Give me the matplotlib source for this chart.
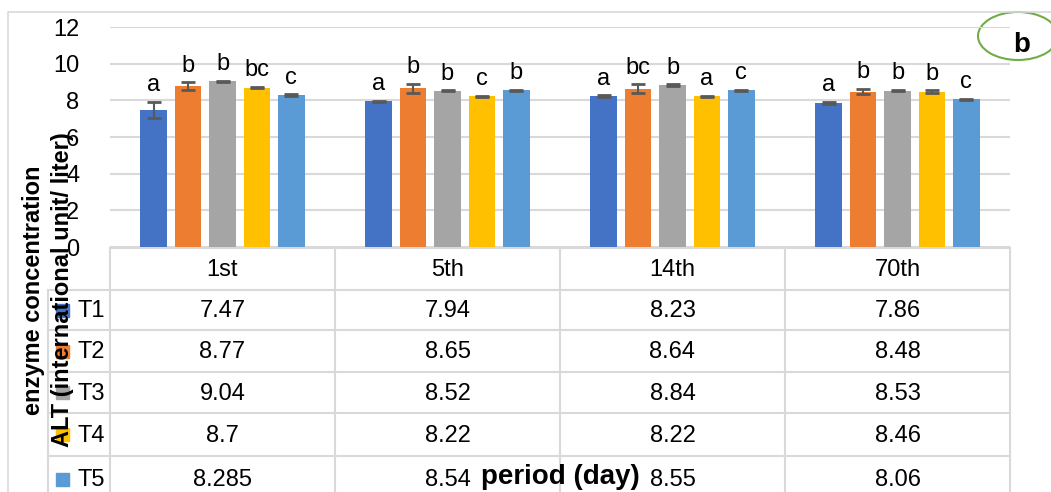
import numpy as np
import matplotlib.pyplot as plt
from matplotlib.patches import Ellipse, Rectangle

plt.rcParams['font.family'] = ['Liberation Sans', 'DejaVu Sans']

periods = ['1st', '5th', '14th', '70th']
groups = ['T1', 'T2', 'T3', 'T4', 'T5']
colors = ['#4472C4', '#ED7D31', '#A5A5A5', '#FFC000', '#5B9BD5']

T1 = [7.47, 7.94, 8.23, 7.86]
T2 = [8.77, 8.65, 8.64, 8.48]
T3 = [9.04, 8.52, 8.84, 8.53]
T4 = [8.7, 8.22, 8.22, 8.46]
T5 = [8.285, 8.54, 8.55, 8.06]

T1_err = [0.45, 0.04, 0.04, 0.06]
T2_err = [0.22, 0.25, 0.25, 0.15]
T3_err = [0.02, 0.03, 0.04, 0.04]
T4_err = [0.03, 0.04, 0.04, 0.08]
T5_err = [0.05, 0.04, 0.04, 0.02]

T1_sig = ['a', 'a', 'a', 'a']
T2_sig = ['b', 'b', 'bc', 'b']
T3_sig = ['b', 'b', 'b', 'b']
T4_sig = ['bc', 'c', 'a', 'b']
T5_sig = ['c', 'b', 'c', 'c']

values = [T1, T2, T3, T4, T5]
errors = [T1_err, T2_err, T3_err, T4_err, T5_err]
letters = [T1_sig, T2_sig, T3_sig, T4_sig, T5_sig]

W, H = 1051, 492
fig = plt.figure(figsize=(W / 100, H / 100), dpi=100)

# overlay axes in pixel units for frame and table
ov = fig.add_axes([0, 0, 1, 1])
ov.set_xlim(0, W)
ov.set_ylim(H, 0)
ov.axis('off')

grid_c = '#D9D9D9'
ov.plot([8, 8, W], [H, 12, 12], color=grid_c, lw=1.2)

# bar chart area
px_l, px_r, px_t, px_b = 110, 1010, 27, 247
ax = fig.add_axes([px_l / W, 1 - px_b / H, (px_r - px_l) / W, (px_b - px_t) / H])
ax.set_xlim(-0.5, len(periods) - 0.5)
ax.set_ylim(0, 12)
ax.set_yticks(range(0, 13, 2))
ax.grid(axis='y', color=grid_c, lw=1.5)
ax.set_axisbelow(True)
for s in ax.spines.values():
    s.set_visible(False)
ax.set_xticks([])
ax.tick_params(axis='y', length=0, labelsize=17, pad=22)
ax.patch.set_alpha(0)

x = np.arange(len(periods))
step = 0.153
bw = 0.117
for i, (vals, err, sig) in enumerate(zip(values, errors, letters)):
    pos = x + (i - 2) * step
    ax.bar(pos, vals, width=bw, color=colors[i], zorder=2)
    ax.errorbar(pos, vals, yerr=err, fmt='none', ecolor='#595959',
                elinewidth=1.5, capsize=5, capthick=2, zorder=3)
    for xp, v, e, s in zip(pos, vals, err, sig):
        ax.text(xp, v + e + 0.3, s, ha='center', va='bottom', fontsize=17)

# data table below the bars
col_edges = np.linspace(px_l, px_r, len(periods) + 1)
row_edges = [248, 290, 330, 372, 413, 456, 500]
label_l = 48
ov.plot([px_l, px_r], [row_edges[0], row_edges[0]], color=grid_c, lw=1.5)
for yy in row_edges[1:-1]:
    ov.plot([label_l, px_r], [yy, yy], color=grid_c, lw=1.5)
for xx in col_edges:
    ov.plot([xx, xx], [row_edges[0], H], color=grid_c, lw=1.5)
ov.plot([label_l, label_l], [row_edges[1], H], color=grid_c, lw=1.5)

centers_x = (col_edges[:-1] + col_edges[1:]) / 2
for cx, p in zip(centers_x, periods):
    ov.text(cx, (row_edges[0] + row_edges[1]) / 2 + 1, p, ha='center', va='center', fontsize=17)
for r, (g, vals) in enumerate(zip(groups, values)):
    cy = (row_edges[r + 1] + row_edges[r + 2]) / 2
    if r == len(groups) - 1:
        cy = 479
    ov.add_patch(Rectangle((56, cy - 6.5), 13, 13, color=colors[r]))
    ov.text(77, cy + 1, g, ha='left', va='center', fontsize=17)
    for cx, v in zip(centers_x, vals):
        ov.text(cx, cy + 1, f'{v:g}', ha='center', va='center', fontsize=17)

# axis titles
ov.text(48, 290, 'enzyme concentration\nALT (international unit/ liter)',
        rotation=90, ha='center', va='center', fontsize=17,
        fontweight='bold', linespacing=1.3)
ov.text(560, 477, 'period (day)', ha='center', va='center', fontsize=20,
        fontweight='bold')

# panel tag
ov.add_patch(Ellipse((1018, 36), 80, 48, fill=False, edgecolor='#70AD47', lw=1.5))
ov.text(1022, 45, 'b', ha='center', va='center', fontsize=20, fontweight='bold')

fig.savefig('out.png', dpi=100)
